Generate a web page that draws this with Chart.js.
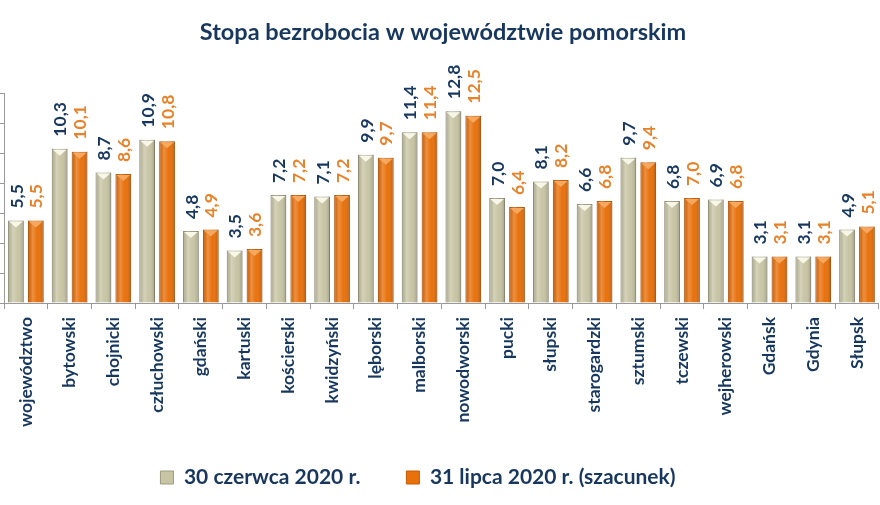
<!DOCTYPE html>
<html>
<head>
<meta charset="utf-8">
<script src="https://cdn.jsdelivr.net/npm/chart.js@4"></script>
<style>
  html, body { margin: 0; padding: 0; background: #fff; overflow: hidden; }
  #wrap { position: relative; width: 880px; height: 505px; overflow: hidden; }
  #chart { position: absolute; left: -5px; top: 0; }
</style>
</head>
<body>
<div id="wrap"><canvas id="chart" width="891" height="522"></canvas></div>
<script>
// --- DATA ---
const categories = ["województwo", "bytowski", "chojnicki", "człuchowski", "gdański", "kartuski",
  "kościerski", "kwidzyński", "lęborski", "malborski", "nowodworski", "pucki", "słupski",
  "starogardzki", "sztumski", "tczewski", "wejherowski", "Gdańsk", "Gdynia", "Słupsk"];
const june2020 = [5.5, 10.3, 8.7, 10.9, 4.8, 3.5, 7.2, 7.1, 9.9, 11.4, 12.8, 7.0, 8.1, 6.6, 9.7, 6.8, 6.9, 3.1, 3.1, 4.9];
const july2020 = [5.5, 10.1, 8.6, 10.8, 4.9, 3.6, 7.2, 7.2, 9.7, 11.4, 12.5, 6.4, 8.2, 6.8, 9.4, 7.0, 6.8, 3.1, 3.1, 5.1];
const seriesNames = ["30 czerwca 2020 r.", "31 lipca 2020 r. (szacunek)"];
const yTicks = [0, 2, 4, 6, 8, 10, 12, 14];

const NAVY = "#17375e";
const ORANGE_TXT = "#e8822a";
const FONT = "Lato, 'Open Sans', sans-serif";

// value labels + 3D-ish shading on bars
const barDecor = {
  id: "barDecor",
  afterDatasetsDraw(chart) {
    const ctx = chart.ctx;
    chart.data.datasets.forEach((ds, di) => {
      const meta = chart.getDatasetMeta(di);
      meta.data.forEach((bar, i) => {
        const w = bar.width, left = bar.x - w / 2, top = bar.y, bottom = bar.base;
        // shading across the bar
        const g = ctx.createLinearGradient(left, 0, left + w, 0);
        g.addColorStop(0, "rgba(0,0,0,0.10)");
        g.addColorStop(0.3, "rgba(255,255,255,0.22)");
        g.addColorStop(0.6, "rgba(255,255,255,0.0)");
        g.addColorStop(1, "rgba(0,0,0,0.22)");
        ctx.save();
        ctx.fillStyle = g;
        ctx.fillRect(left, top, w, bottom - top);
        // top highlight triangle
        ctx.beginPath();
        ctx.moveTo(left + 1, top + 1);
        ctx.lineTo(left + w - 1, top + 1);
        ctx.lineTo(bar.x, top + 7);
        ctx.closePath();
        ctx.fillStyle = di === 0 ? "#f8f6e6" : "#f6a95e";
        ctx.fill();
        // value label
        ctx.translate(bar.x, top - 12);
        ctx.rotate(-Math.PI / 2);
        ctx.font = "bold 17.5px " + FONT;
        ctx.textAlign = "left";
        ctx.textBaseline = "middle";
        ctx.fillStyle = di === 0 ? NAVY : ORANGE_TXT;
        ctx.fillText(ds.data[i].toFixed(1).replace(".", ","), 0, 1);
        ctx.restore();
      });
    });
  }
};

// move legend left and up, like in the source picture
const legendShift = {
  id: "legendShift",
  afterLayout(chart) {
    const lg = chart.legend;
    lg.left -= 25;
    lg.right -= 25;
    lg.top -= 24;
    lg.bottom -= 24;
  }
};

new Chart(document.getElementById("chart"), {
  type: "bar",
  data: {
    labels: categories,
    datasets: [
      {
        label: seriesNames[0],
        data: june2020,
        backgroundColor: "#c8c5a5",
        borderColor: "#9e9b80",
        borderWidth: 1,
        categoryPercentage: 0.91,
        barPercentage: 0.79
      },
      {
        label: seriesNames[1],
        data: july2020,
        backgroundColor: "#e8710c",
        borderColor: "#c65b02",
        borderWidth: 1,
        categoryPercentage: 0.91,
        barPercentage: 0.79
      }
    ]
  },
  options: {
    responsive: false,
    animation: false,
    layout: { padding: { left: 5, right: 0, top: 0, bottom: 0 } },
    plugins: {
      title: {
        display: true,
        text: "Stopa bezrobocia w województwie pomorskim",
        color: NAVY,
        font: { family: FONT, size: 23.5, weight: "bold" },
        padding: { top: 18, bottom: 47 }
      },
      legend: {
        position: "bottom",
        labels: {
          color: NAVY,
          font: { family: FONT, size: 21, weight: "bold" },
          boxWidth: 13,
          boxHeight: 13,
          padding: 46
        }
      },
      tooltip: { enabled: false }
    },
    scales: {
      x: {
        grid: { drawOnChartArea: false, drawTicks: true, tickLength: 6, color: "#999" },
        border: { color: "#999" },
        ticks: {
          color: NAVY,
          font: { family: FONT, size: 17.5, weight: "bold" },
          maxRotation: 90,
          minRotation: 90,
          padding: 8,
          autoSkip: false
        },
        afterFit(scale) { scale.height = 142; }
      },
      y: {
        min: yTicks[0],
        max: yTicks[yTicks.length - 1],
        afterBuildTicks(scale) { scale.ticks = yTicks.map(v => ({ value: v })); },
        grid: { drawOnChartArea: false, drawTicks: true, tickLength: 4, color: "#999" },
        border: { color: "#999" },
        ticks: { display: false },
        afterFit(scale) { scale.width = 4; }
      }
    }
  },
  plugins: [barDecor, legendShift]
});
</script>
</body>
</html>
